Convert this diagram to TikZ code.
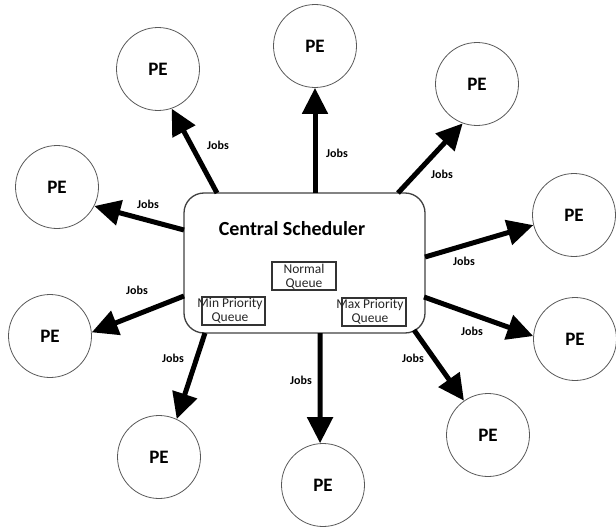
\documentclass[tikz,border=0pt]{standalone}
\usepackage{fontspec}
\setmainfont{Carlito}
\usetikzlibrary{arrows.meta}
\tikzset{
  pe/.style={circle, draw=black!65, line width=0.8pt, minimum size=83pt, inner sep=0pt,
    font=\fontsize{19}{21}\selectfont\bfseries},
  job/.style={line width=5pt, -{Triangle[length=26pt,width=25pt]}},
  jobs/.style={font=\fontsize{12}{13}\selectfont\bfseries, inner sep=1pt},
  qbox/.style={draw=black!80, line width=1.1pt, inner sep=0pt},
  qtext/.style={font=\fontsize{13.5}{14}\selectfont, align=center, inner sep=0pt, text=black!85},
  sched/.style={draw=black!75, line width=1.3pt, rounded corners=20pt, minimum width=241pt,
    minimum height=140pt, inner sep=0pt}
}
\begin{document}
\begin{tikzpicture}[x=1pt,y=-1pt]
\useasboundingbox (0,0) rectangle (616,527);
% central scheduler
\node[sched] (cs) at (304.5,263) {};
\node[font=\fontsize{20}{22}\selectfont\bfseries, inner sep=0pt] (cst) at (292,229) {Central Scheduler};
\node[qbox, minimum width=64pt, minimum height=28pt] (nq) at (304,276) {};
\node[qtext] (nqt) at (304,277) {Normal\\Queue};
\node[qbox, minimum width=63pt, minimum height=28pt] (mnq) at (233.5,311) {};
\node[qtext] (mnqt) at (230,311) {Min Priority\\Queue};
\node[qbox, minimum width=64pt, minimum height=28pt] (mxq) at (374,312) {};
\node[qtext] (mxqt) at (370,312) {Max Priority\\Queue};
% processing elements
\node[pe] (pe1) at (158,69) {PE};
\node[pe] (pe2) at (57,187) {PE};
\node[pe] (pe3) at (315,46) {PE};
\node[pe] (pe4) at (477,84) {PE};
\node[pe] (pe5) at (574,215) {PE};
\node[pe] (pe6) at (575,339) {PE};
\node[pe] (pe7) at (488,435) {PE};
\node[pe] (pe8) at (323,485) {PE};
\node[pe] (pe9) at (159,457) {PE};
\node[pe] (pe10) at (50,336) {PE};
% start points on scheduler border
\coordinate (s1) at (217,193);
\coordinate (s2) at (184,230);
\coordinate (s3) at (315,193);
\coordinate (s4) at (398,193);
\coordinate (s5) at (425,257);
\coordinate (s6) at (424,297);
\coordinate (s7) at (414,330);
\coordinate (s8) at (320,333);
\coordinate (s9) at (205,333);
\coordinate (s10) at (184,296);
% connectors
\draw[job] (s1) -- (pe1.-71.6);
\draw[job] (s2) -- (pe2.-27.2);
\draw[job] (s3) -- (pe3.-90);
\draw[job] (s4) -- (pe4.-110.4);
\draw[job] (s5) -- (pe5.194.8);
\draw[job] (s6) -- (pe6.176.6);
\draw[job] (s7) -- (pe7.125.4);
\draw[job] (s8) -- (pe8.94);
\draw[job] (s9) -- (pe9.65.4);
\draw[job] (s10) -- (pe10.5.7);
% labels
\node[jobs] (j1) at (218,145) {Jobs};
\node[jobs] (j2) at (148,204) {Jobs};
\node[jobs] (j3) at (337,153) {Jobs};
\node[jobs] (j4) at (442,174) {Jobs};
\node[jobs] (j5) at (464,261) {Jobs};
\node[jobs] (j6) at (472,331) {Jobs};
\node[jobs] (j7) at (413,358) {Jobs};
\node[jobs] (j8) at (301,380) {Jobs};
\node[jobs] (j9) at (173,358) {Jobs};
\node[jobs] (j10) at (137,290) {Jobs};
\end{tikzpicture}
\end{document}
